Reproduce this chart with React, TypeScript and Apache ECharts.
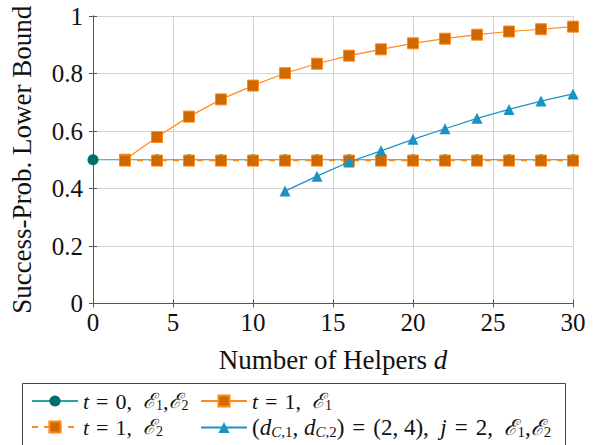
import React, { useEffect, useRef } from "react";
import * as echarts from "echarts";

const helpersT0 = [0, 2, 4, 6, 8, 10, 12, 14, 16, 18, 20, 22, 24, 26, 28, 30];
const valuesT0 = [0.5, 0.5, 0.5, 0.5, 0.5, 0.5, 0.5, 0.5, 0.5, 0.5, 0.5, 0.5, 0.5, 0.5, 0.5, 0.5];
const helpersT1 = [2, 4, 6, 8, 10, 12, 14, 16, 18, 20, 22, 24, 26, 28, 30];
const valuesT1E1 = [0.5, 0.579, 0.65, 0.71, 0.758, 0.801, 0.834, 0.862, 0.884, 0.905, 0.921, 0.935, 0.946, 0.954, 0.963];
const valuesT1E2 = [0.497, 0.497, 0.497, 0.497, 0.497, 0.497, 0.497, 0.497, 0.497, 0.497, 0.497, 0.497, 0.497, 0.497, 0.497];
const helpersC = [12, 14, 16, 18, 20, 22, 24, 26, 28, 30];
const valuesC = [0.391, 0.443, 0.492, 0.531, 0.571, 0.608, 0.644, 0.675, 0.704, 0.729];

const seriesNames = ["t0", "t1e1", "t1e2", "dc"];
const legendLabels: Record<string, string> = {
  t0: "{i|t}{m|=}{n|0,  }{e|ℰ}{s|1}{n|,}{e|ℰ}{s|2}",
  t1e1: "{i|t}{m|=}{n|1,  }{e|ℰ}{s|1}",
  t1e2: "{i|t}{m|=}{n|1,  }{e|ℰ}{s|2}",
  dc: "{N|(}{I|d}{SI|C}{S|,1}{N|, }{I|d}{SI|C}{S|,2}{N|)}{M|=}{N|(2, 4),  }{I|j}{M|=}{N|2,  }{E|ℰ}{S|1}{N|,}{E|ℰ}{S|2}",
};

const FONT = "'Liberation Serif', serif";
const EFONT = "'DejaVu Serif', serif";
const TEAL_LINE = "#2aa3a3";
const TEAL_FILL = "#00706e";
const ORANGE_LINE = "#ff8a1a";
const ORANGE_FILL = "#d06800";
const BLUE = "#1a93c2";
const TEXT = "#111";

const zip = (xs: number[], ys: number[]) => xs.map((x, i) => [x, ys[i]]);

export default function App() {
  const ref = useRef<HTMLDivElement>(null);
  useEffect(() => {
    if (!ref.current) return;
    const chart = echarts.init(ref.current, undefined, { renderer: "svg" });
    const richLegend = {
      i: { fontStyle: "italic", fontFamily: FONT, fontSize: 22, color: TEXT },
      n: { fontFamily: FONT, fontSize: 22, color: TEXT },
      m: { fontFamily: FONT, fontSize: 22, color: TEXT, padding: [0, 7, 0, 7] },
      e: { fontFamily: EFONT, fontStyle: "italic", fontSize: 21, color: TEXT },
      s: { fontFamily: FONT, fontSize: 14, color: TEXT, verticalAlign: "bottom", padding: [8, 0, 0, 0] },
      I: { fontStyle: "italic", fontFamily: FONT, fontSize: 23, color: TEXT },
      N: { fontFamily: FONT, fontSize: 23, color: TEXT },
      M: { fontFamily: FONT, fontSize: 23, color: TEXT, padding: [0, 8, 0, 8] },
      E: { fontFamily: EFONT, fontStyle: "italic", fontSize: 22, color: TEXT },
      S: { fontFamily: FONT, fontSize: 15, color: TEXT, verticalAlign: "bottom", padding: [8, 0, 0, 0] },
      SI: { fontFamily: FONT, fontStyle: "italic", fontSize: 15, color: TEXT, verticalAlign: "bottom", padding: [8, 0, 0, 0] },
    };
    const legendPos = [
      { left: 31, top: 390 },
      { left: 200, top: 390 },
      { left: 31, top: 416 },
      { left: 200, top: 416 },
    ];
    const legends = seriesNames.map((name, k) => ({
      data: [name],
      left: legendPos[k].left,
      top: legendPos[k].top,
      orient: "horizontal",
      padding: 0,
      itemWidth: 46,
      itemHeight: 14,
      itemGap: 0,
      formatter: (n: string) => legendLabels[n],
      textStyle: { fontFamily: FONT, fontSize: 22, color: TEXT, rich: richLegend },
      selectedMode: false,
    }));
    const axisCommon = {
      type: "value",
      min: 0,
      axisLine: { show: true, lineStyle: { color: "#555", width: 1 } },
      axisTick: { show: true, inside: true, length: 4, lineStyle: { color: "#555" } },
      splitLine: { show: true, lineStyle: { color: "#d4d4d4", width: 1 } },
    };
    chart.setOption({
      animation: false,
      backgroundColor: "#fff",
      textStyle: { fontFamily: FONT },
      grid: { left: 93, right: 23, top: 16, bottom: 141.5, show: false },
      graphic: [
        {
          type: "rect",
          z: 0,
          shape: { x: 22.5, y: 383.5, width: 543, height: 70 },
          style: { fill: "#fff", stroke: "#444", lineWidth: 1 },
        },
      ],
      legend: legends,
      xAxis: [
        {
          ...axisCommon,
          max: 30,
          interval: 5,
          name: "{n|Number of Helpers }{i|d}",
          nameLocation: "middle",
          nameGap: 43,
          nameTextStyle: {
            fontFamily: FONT,
            fontSize: 27,
            color: TEXT,
            rich: {
              n: { fontFamily: FONT, fontSize: 27, color: TEXT },
              i: { fontFamily: FONT, fontStyle: "italic", fontSize: 27, color: TEXT },
            },
          },
          axisLabel: { fontFamily: FONT, fontSize: 25, color: TEXT, margin: 6 },
        },
        {
          ...axisCommon,
          position: "top",
          max: 30,
          interval: 5,
          axisLabel: { show: false },
          splitLine: { show: false },
        },
      ],
      yAxis: [
        {
          ...axisCommon,
          max: 1,
          interval: 0.2,
          name: "Success-Prob. Lower Bound",
          nameLocation: "middle",
          nameGap: 58,
          nameTextStyle: { fontFamily: FONT, fontSize: 27, color: TEXT },
          axisLabel: {
            fontFamily: FONT,
            fontSize: 25,
            color: TEXT,
            margin: 10,
            formatter: (v: number) => (v === 0 ? "0" : v === 1 ? "1" : v.toFixed(1)),
          },
        },
        {
          ...axisCommon,
          position: "right",
          max: 1,
          interval: 0.2,
          axisLabel: { show: false },
          splitLine: { show: false },
        },
      ],
      series: [
        {
          name: "t0",
          type: "line",
          data: zip(helpersT0, valuesT0),
          symbol: "circle",
          symbolSize: 11,
          lineStyle: { color: TEAL_LINE, width: 1.2 },
          itemStyle: { color: TEAL_FILL, borderColor: TEAL_FILL, borderWidth: 0 },
          z: 2,
        },
        {
          name: "t1e1",
          type: "line",
          data: zip(helpersT1, valuesT1E1),
          symbol: "rect",
          symbolSize: 11,
          lineStyle: { color: ORANGE_LINE, width: 1.2 },
          itemStyle: { color: ORANGE_FILL, borderColor: ORANGE_LINE, borderWidth: 1 },
          z: 3,
        },
        {
          name: "t1e2",
          type: "line",
          data: zip(helpersT1, valuesT1E2),
          symbol: "rect",
          symbolSize: 11,
          lineStyle: { color: ORANGE_LINE, width: 1.2, type: [6, 6] },
          itemStyle: { color: ORANGE_FILL, borderColor: ORANGE_LINE, borderWidth: 1 },
          z: 3,
        },
        {
          name: "dc",
          type: "line",
          data: zip(helpersC, valuesC),
          symbol: "triangle",
          symbolSize: 11,
          lineStyle: { color: BLUE, width: 1.2 },
          itemStyle: { color: BLUE, borderColor: BLUE, borderWidth: 0 },
          z: 4,
        },
      ],
    });
    return () => chart.dispose();
  }, []);
  return (
    <div
      ref={ref}
      style={{ position: "absolute", left: 0, top: 0, width: 596, height: 445 }}
    />
  );
}
